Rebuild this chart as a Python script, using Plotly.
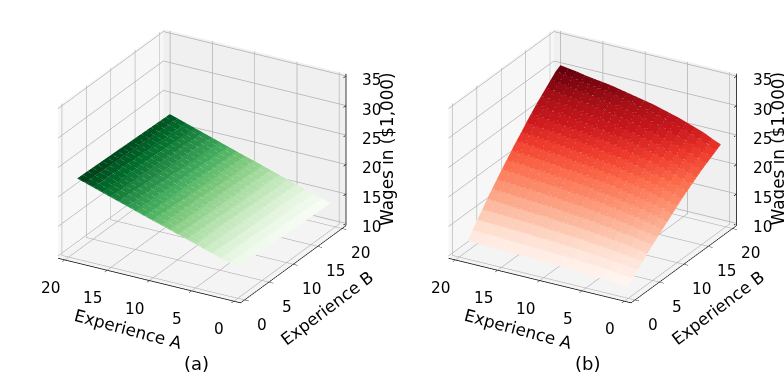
import math
import plotly.graph_objects as go

exp_a = list(range(20))
exp_b = list(range(20))
# panel (a): rows are Experience B, columns are Experience A
wage_a_along_a = [14.8,15.25,15.7,16.15,16.6,17.05,17.5,17.95,18.4,18.85,19.25,19.7,20.15,20.6,21.05,21.5,21.95,22.4,22.85,23.3]
wage_a_along_b = [0.0,-0.03,-0.06,-0.09,-0.13,-0.16,-0.19,-0.22,-0.25,-0.28,-0.32,-0.35,-0.38,-0.41,-0.44,-0.47,-0.51,-0.54,-0.57,-0.6]
wage_a = [[v + u for v in wage_a_along_a] for u in wage_a_along_b]
# panel (b): rows are Experience B, columns are Experience A
wage_b = [
 [11.5,11.6,11.7,11.8,11.9,12.0,12.1,12.1,12.2,12.3,12.3,12.4,12.4,12.5,12.5,12.5,12.6,12.6,12.7,12.7],
 [12.35,12.5,12.6,12.8,12.9,13.0,13.1,13.2,13.3,13.3,13.4,13.5,13.5,13.6,13.6,13.7,13.8,13.8,13.9,13.9],
 [13.2,13.4,13.5,13.7,13.8,14.0,14.1,14.2,14.3,14.4,14.5,14.6,14.6,14.7,14.8,14.8,14.9,15.0,15.0,15.1],
 [14.0,14.2,14.4,14.6,14.7,14.9,15.0,15.2,15.3,15.4,15.5,15.6,15.7,15.8,15.9,15.9,16.0,16.1,16.2,16.2],
 [14.8,15.0,15.2,15.5,15.6,15.8,16.0,16.1,16.3,16.4,16.5,16.6,16.8,16.8,16.9,17.0,17.1,17.2,17.3,17.4],
 [15.6,15.8,16.1,16.3,16.5,16.7,16.9,17.1,17.3,17.4,17.5,17.7,17.8,17.9,18.0,18.1,18.2,18.3,18.4,18.5],
 [16.3,16.6,16.9,17.1,17.4,17.6,17.8,18.0,18.2,18.4,18.5,18.6,18.8,18.9,19.0,19.1,19.2,19.3,19.4,19.5],
 [17.0,17.4,17.7,18.0,18.2,18.5,18.7,18.9,19.1,19.3,19.4,19.6,19.8,19.9,20.0,20.1,20.2,20.4,20.5,20.6],
 [17.7,18.1,18.4,18.8,19.0,19.3,19.6,19.8,20.0,20.2,20.4,20.6,20.7,20.8,21.0,21.1,21.2,21.4,21.5,21.6],
 [18.4,18.8,19.2,19.5,19.8,20.1,20.4,20.7,20.9,21.1,21.3,21.5,21.6,21.8,21.9,22.1,22.2,22.3,22.5,22.6],
 [19.1,19.5,19.9,20.3,20.6,20.9,21.2,21.5,21.7,22.0,22.2,22.4,22.5,22.7,22.9,23.0,23.1,23.3,23.5,23.6],
 [19.8,20.2,20.6,21.0,21.4,21.7,22.0,22.3,22.6,22.8,23.0,23.2,23.4,23.6,23.8,23.9,24.1,24.2,24.4,24.5],
 [20.4,20.8,21.3,21.7,22.1,22.4,22.8,23.1,23.4,23.6,23.8,24.1,24.3,24.5,24.6,24.8,25.0,25.1,25.3,25.5],
 [21.0,21.5,22.0,22.4,22.8,23.2,23.5,23.8,24.1,24.4,24.7,24.9,25.1,25.3,25.5,25.6,25.8,26.0,26.2,26.4],
 [21.6,22.1,22.6,23.1,23.5,23.9,24.2,24.6,24.9,25.2,25.4,25.7,25.9,26.1,26.3,26.5,26.7,26.9,27.1,27.3],
 [22.2,22.7,23.2,23.7,24.1,24.6,25.0,25.3,25.6,25.9,26.2,26.5,26.7,26.9,27.1,27.3,27.5,27.7,27.9,28.1],
 [22.7,23.3,23.8,24.3,24.8,25.2,25.6,26.0,26.3,26.7,26.9,27.2,27.5,27.7,27.9,28.1,28.3,28.5,28.7,28.9],
 [23.2,23.8,24.4,24.9,25.4,25.9,26.3,26.7,27.0,27.4,27.7,27.9,28.2,28.4,28.7,28.9,29.1,29.3,29.5,29.7],
 [23.7,24.4,25.0,25.5,26.0,26.5,26.9,27.3,27.7,28.0,28.3,28.6,28.9,29.2,29.4,29.6,29.8,30.1,30.3,30.5],
 [24.2,24.8,25.5,26.0,26.5,27.0,27.4,27.8,28.2,28.5,28.8,29.1,29.4,29.7,29.9,30.1,30.3,30.6,30.8,31.0],
]
tick_ab = [0, 5, 10, 15, 20]
tick_z = [10, 15, 20, 25, 30, 35]
panel_labels = ["(a)", "(b)"]
titles = ["Experience A", "Experience B", "Wages in ($1,000)"]

A_LOW, A_HIGH = -0.8, 20.8
Z_LOW, Z_HIGH = 9.6, 35.4
WIRE_LIFT = 0.12
FONT = "DejaVu Sans"

def mesh(z, scale, sid):
    xs, ys, zs, i, j, k, cell = [], [], [], [], [], [], []
    n, m = len(exp_b), len(exp_a)
    for r in range(n):
        for c in range(m):
            xs.append(exp_a[c]); ys.append(exp_b[r]); zs.append(z[r][c])
    for r in range(n - 1):
        for c in range(m - 1):
            p = r * m + c
            mean = (z[r][c] + z[r][c+1] + z[r+1][c] + z[r+1][c+1]) / 4
            i += [p, p]; j += [p + 1, p + m + 1]; k += [p + m + 1, p + m]
            cell += [mean, mean]
    return go.Mesh3d(x=xs, y=ys, z=zs, i=i, j=j, k=k, intensity=cell, intensitymode="cell",
                     colorscale=scale, showscale=False, flatshading=True, scene=sid, hoverinfo="skip",
                     lighting=dict(ambient=1, diffuse=0, specular=0, roughness=1, fresnel=0))

def wires(z, sid):
    xs, ys, zs = [], [], []
    for r, b in enumerate(exp_b):
        for c, a in enumerate(exp_a):
            xs.append(a); ys.append(b); zs.append(z[r][c] + WIRE_LIFT)
        xs.append(None); ys.append(None); zs.append(None)
    for c, a in enumerate(exp_a):
        for r, b in enumerate(exp_b):
            xs.append(a); ys.append(b); zs.append(z[r][c] + WIRE_LIFT)
        xs.append(None); ys.append(None); zs.append(None)
    return go.Scatter3d(x=xs, y=ys, z=zs, mode="lines", scene=sid, hoverinfo="skip", opacity=0.3,
                        line=dict(color="white", width=1))

def zspine(sid):
    xs, ys, zs = [A_LOW, A_LOW], [A_HIGH, A_HIGH], [Z_LOW, Z_HIGH]
    for t in tick_z:
        xs += [None, A_LOW, A_LOW]; ys += [None, A_HIGH - 0.5, A_HIGH]; zs += [None, t, t]
    return go.Scatter3d(x=xs, y=ys, z=zs, mode="lines", scene=sid, hoverinfo="skip",
                        line=dict(color="black", width=1.5))

def axis(rng, ticks, bg, drawn=True):
    d = dict(range=rng, tickvals=ticks, showbackground=True, backgroundcolor=bg, gridcolor="#b0b0b0", gridwidth=1.5,
             zeroline=False, showspikes=False, title=dict(text=""), showticklabels=False)
    if drawn:
        d.update(showline=True, linecolor="black", linewidth=1.5, ticks="outside", ticklen=5, tickcolor="black", tickwidth=1)
    else:
        d.update(ticks="", showline=False)
    return d

az, el = math.radians(-60), math.radians(25)
dist = 1.75
eye = dict(x=dist*math.cos(el)*math.cos(az), y=dist*math.cos(el)*math.sin(az), z=dist*math.sin(el))

def note(x, y, z, text, dx, dy, size=15.3, angle=0):
    return dict(x=x, y=y, z=z, text=text, showarrow=False, xanchor="center", yanchor="middle", xshift=dx, yshift=dy,
                textangle=angle, font=dict(family=FONT, size=size, color="black"))

def scene(dom):
    notes = []
    for t in tick_ab:
        notes.append(note(t, A_LOW, Z_LOW, str(t), -14.5, -28))
        notes.append(note(A_LOW, t, Z_LOW, str(t), 18, -24.5))
    for t in tick_z:
        notes.append(note(A_LOW, A_HIGH, t, str(t), 26, -4))
    notes.append(note(10, A_LOW, Z_LOW, titles[0], -21, -48, 16.8, 15))
    notes.append(note(A_LOW, 10, Z_LOW, titles[1], 34, -44, 16.8, -37))
    notes.append(note(A_LOW, A_HIGH, 22.5, titles[2], 41, 1, 16.8, -90))
    return dict(domain=dict(x=dom, y=[0.133, 1]),
                xaxis=axis([A_HIGH, A_LOW], tick_ab, "#f7f7f7"),
                yaxis=axis([A_LOW, A_HIGH], tick_ab, "#f0f0f0"),
                zaxis=axis([Z_LOW, Z_HIGH], tick_z, "#f4f4f4", drawn=False),
                aspectmode="manual", aspectratio=dict(x=1.27, y=1.27, z=1.01), annotations=notes,
                camera=dict(eye=eye, up=dict(x=0, y=0, z=1), center=dict(x=0, y=0, z=0),
                            projection=dict(type="orthographic")))

fig = go.Figure([mesh(wage_a, "Greens", "scene"), wires(wage_a, "scene"), zspine("scene"),
                 mesh(wage_b, "Reds", "scene2"), wires(wage_b, "scene2"), zspine("scene2")])
fig.update_layout(width=784, height=383, margin=dict(l=0, r=0, t=0, b=0), paper_bgcolor="white",
                  font=dict(family=FONT, size=13), showlegend=False,
                  scene=scene([10/784, 394/784]), scene2=scene([401/784, 1]),
                  annotations=[dict(text=panel_labels[0], x=196/784, y=1-363/383, xref="paper", yref="paper", xanchor="center", yanchor="middle", showarrow=False, font=dict(size=18, color="black")),
                               dict(text=panel_labels[1], x=587/784, y=1-363/383, xref="paper", yref="paper", xanchor="center", yanchor="middle", showarrow=False, font=dict(size=18, color="black"))])
fig.write_html("out.html", config=dict(displayModeBar=False),
               post_script="document.body.style.margin='0';document.documentElement.style.overflow='hidden';")
